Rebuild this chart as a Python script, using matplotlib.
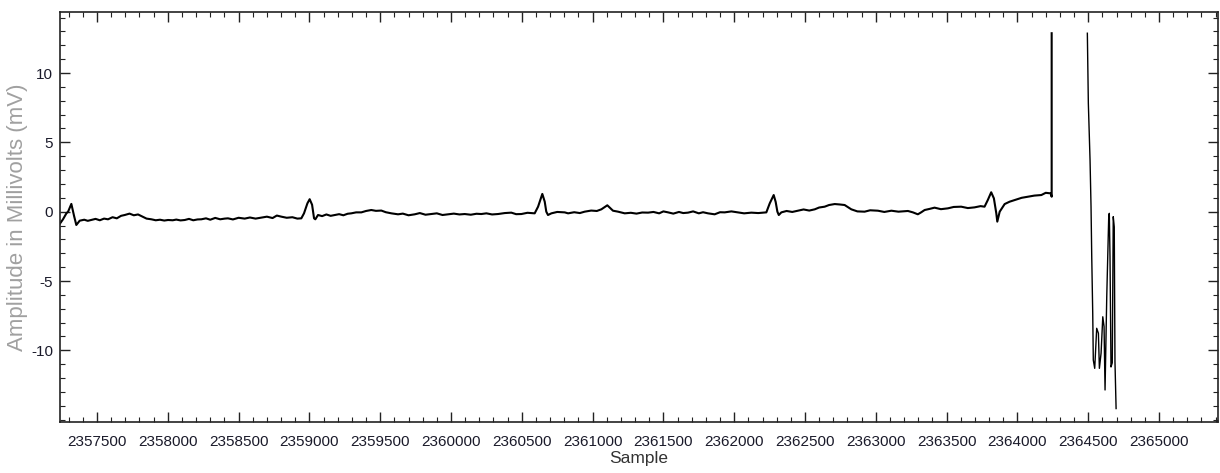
import numpy as np
import matplotlib.pyplot as plt
from matplotlib.ticker import MultipleLocator, FixedLocator

# ECG trace (sample index, amplitude in mV)
base_samples = [
    2357240, 2357260, 2357284, 2357296, 2357319, 2357338, 2357354, 2357378, 2357410, 2357435,
    2357460, 2357490, 2357520, 2357550, 2357578, 2357610, 2357640, 2357670, 2357696, 2357730,
    2357760, 2357790, 2357820, 2357850, 2357884, 2357915, 2357945, 2357975, 2358002, 2358035,
    2358060, 2358090, 2358120, 2358150, 2358180, 2358210, 2358237, 2358270, 2358300, 2358335,
    2358370, 2358402,
    2358425, 2358460, 2358500, 2358543, 2358580, 2358620, 2358661, 2358700, 2358740, 2358770,
    2358802, 2358840, 2358880, 2358915, 2358943, 2358962, 2358986, 2359002, 2359019, 2359033,
    2359042, 2359061, 2359090, 2359120, 2359150, 2359179, 2359210, 2359240, 2359270, 2359296,
    2359330, 2359367, 2359400, 2359437, 2359470, 2359508, 2359540, 2359579, 2359626,
    2359660, 2359700, 2359744, 2359780, 2359820, 2359861, 2359900, 2359940, 2359979, 2360020,
    2360060, 2360097, 2360140, 2360180, 2360214, 2360250, 2360290, 2360332, 2360380, 2360426,
    2360460, 2360497, 2360540, 2360591, 2360615, 2360645, 2360662, 2360673, 2360685, 2360709,
    2360750, 2360803,
    2360827, 2360870, 2360910, 2360944, 2360990, 2361030, 2361062, 2361104, 2361144, 2361180,
    2361227, 2361270, 2361310, 2361350, 2361392, 2361430, 2361470, 2361500, 2361533, 2361570,
    2361610, 2361640, 2361674, 2361710, 2361750, 2361780, 2361815, 2361862, 2361900, 2361933,
    2361980, 2362027,
    2362070, 2362121, 2362170, 2362227, 2362251, 2362279, 2362293, 2362305, 2362315, 2362333,
    2362370, 2362410, 2362451, 2362490, 2362530, 2362569, 2362600, 2362639, 2362670, 2362710,
    2362745, 2362780, 2362827, 2362870, 2362921, 2362960, 2363015, 2363060, 2363110, 2363160,
    2363227,
    2363262, 2363297, 2363320, 2363345, 2363380, 2363415, 2363460, 2363509, 2363550, 2363603,
    2363650, 2363697, 2363740, 2363768, 2363791, 2363815, 2363834, 2363851, 2363858, 2363875,
    2363910, 2363945, 2363981, 2364030, 2364075, 2364120, 2364169, 2364200, 2364235, 2364242,
    2364242,
]
base_mv = [
    -0.84, -0.55, -0.12, 0.00, 0.56, -0.30, -0.96, -0.65, -0.58, -0.66,
    -0.60, -0.52, -0.62, -0.50, -0.55, -0.40, -0.48, -0.30, -0.24, -0.14,
    -0.26, -0.20, -0.35, -0.50, -0.55, -0.62, -0.58, -0.64, -0.60, -0.62,
    -0.57, -0.63, -0.60, -0.52, -0.62, -0.56, -0.55, -0.48, -0.58, -0.45,
    -0.55, -0.50,
    -0.48, -0.56, -0.44, -0.50, -0.42, -0.50, -0.43, -0.36, -0.46, -0.28,
    -0.36, -0.44, -0.40, -0.50, -0.48, -0.12, 0.60, 0.90, 0.50, -0.48,
    -0.55, -0.24, -0.32, -0.20, -0.30, -0.24, -0.18, -0.26, -0.15, -0.12,
    -0.05, -0.05, 0.05, 0.12, 0.06, 0.08, -0.04, -0.12, -0.19,
    -0.14, -0.26, -0.19, -0.10, -0.22, -0.17, -0.12, -0.24, -0.19, -0.14,
    -0.20, -0.17, -0.22, -0.15, -0.17, -0.12, -0.20, -0.17, -0.10, -0.07,
    -0.18, -0.17, -0.08, -0.12, 0.36, 1.28, 0.72, 0.00, -0.24, -0.12,
    -0.02, -0.05,
    -0.12, -0.04, -0.10, 0.00, 0.08, 0.05, 0.17, 0.46, 0.07, 0.00,
    -0.12, -0.08, -0.14, -0.06, -0.07, -0.02, -0.12, 0.02, -0.05, -0.14,
    -0.02, -0.10, -0.07, 0.02, -0.12, -0.04, -0.12, -0.19, -0.04, -0.05,
    0.02, -0.05,
    -0.12, -0.07, -0.10, -0.05, 0.60, 1.20, 0.70, 0.00, -0.24, -0.05,
    0.05, -0.02, 0.07, 0.16, 0.08, 0.17, 0.30, 0.36, 0.48, 0.55,
    0.52, 0.48, 0.17, 0.02, 0.00, 0.10, 0.07, -0.02, 0.07, 0.00,
    0.05,
    -0.05, -0.19, -0.05, 0.12, 0.20, 0.29, 0.18, 0.24, 0.34, 0.36,
    0.26, 0.31, 0.40, 0.36, 0.84, 1.40, 0.96, -0.12, -0.72, 0.00,
    0.55, 0.72, 0.84, 1.00, 1.08, 1.16, 1.20, 1.36, 1.32, 1.08,
    12.87,
]

# saturated burst at the end of the record
tail_samples = [
    2364494, 2364501, 2364513, 2364520, 2364525, 2364532, 2364536, 2364546, 2364560, 2364572,
    2364579, 2364591, 2364603, 2364612, 2364619, 2364631, 2364645, 2364649, 2364654, 2364661,
    2364670, 2364677, 2364684, 2364689, 2364697,
]
tail_mv = [
    12.87, 7.82, 3.73, 0.36, -3.25, -7.33, -10.7, -11.3, -8.41, -8.77,
    -11.3, -10.2, -7.58, -8.29, -12.86, -6.13, -0.36, -0.12, -3.25, -11.2,
    -10.9, -0.36, -1.1, -10.8, -14.2,
]

y_major = [-10, -5, 0, 5, 10]

plt.rcParams['font.family'] = ['Liberation Sans Narrow', 'Liberation Sans', 'DejaVu Sans']
plt.rcParams['axes.unicode_minus'] = False

fig = plt.figure(figsize=(12.2, 4.73), dpi=100)
ax = fig.add_axes([0.0492, 0.1078, 0.9492, 0.8668])

ax.plot(base_samples, base_mv, color='black', lw=1.5)
ax.plot(tail_samples, tail_mv, color='black', lw=1.0)

ax.set_xlim(2357239, 2365417)
ax.set_ylim(-15.17, 14.4)
ax.ticklabel_format(axis='x', style='plain', useOffset=False)

ax.xaxis.set_major_locator(MultipleLocator(500))
ax.xaxis.set_minor_locator(MultipleLocator(100))
ax.yaxis.set_major_locator(FixedLocator(y_major))
ax.yaxis.set_minor_locator(MultipleLocator(1))

ax.tick_params(which='both', direction='in', top=True, right=True, colors='#222222')
ax.tick_params(which='major', length=7, width=1.0)
ax.tick_params(which='minor', length=3.5, width=0.8)
ax.tick_params(axis='x', which='major', pad=9, labelsize=11, labelcolor='#1a1a2a')
ax.tick_params(axis='y', which='major', pad=5, labelsize=11, labelcolor='#1a1a2a')

for sp in ax.spines.values():
    sp.set_linewidth(1.2)
    sp.set_color('#222222')

ax.set_xlabel('Sample', fontsize=12.5, color='#333333', labelpad=2)
ax.set_ylabel('Amplitude in Millivolts (mV)', fontsize=16, color='#a0a0a0',
              family=['Liberation Sans', 'DejaVu Sans'])
ax.yaxis.set_label_coords(-0.0276, 0.5)

fig.savefig('out.png', dpi=100)
